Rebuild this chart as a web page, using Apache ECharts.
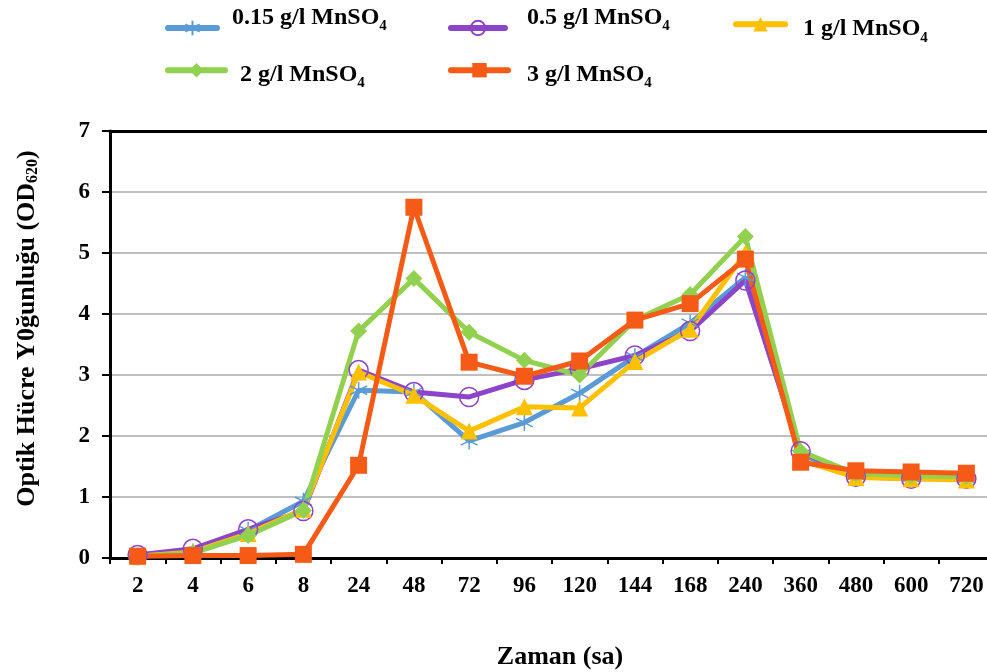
<!DOCTYPE html>
<html>
<head>
<meta charset="utf-8">
<script src="https://cdn.jsdelivr.net/npm/echarts@6/dist/echarts.min.js"></script>
<style>
  html, body { margin: 0; padding: 0; background: #fff; overflow: hidden; }
  #chart { width: 987px; height: 672px; }
</style>
</head>
<body>
<div id="chart"></div>
<script>
const categories = ['2', '4', '6', '8', '24', '48', '72', '96', '120', '144', '168', '240', '360', '480', '600', '720']
const mn015 = [0.03, 0.10, 0.45, 0.93, 2.75, 2.72, 1.92, 2.22, 2.70, 3.30, 3.85, 4.60, 1.70, 1.35, 1.32, 1.30]
const mn05 = [0.05, 0.15, 0.47, 0.77, 3.08, 2.72, 2.64, 2.92, 3.10, 3.32, 3.72, 4.55, 1.75, 1.33, 1.30, 1.30]
const mn1 = [0.03, 0.10, 0.40, 0.80, 3.05, 2.67, 2.08, 2.48, 2.46, 3.22, 3.75, 5.00, 1.60, 1.32, 1.30, 1.28]
const mn2 = [0.03, 0.08, 0.37, 0.78, 3.72, 4.58, 3.70, 3.24, 3.00, 3.90, 4.32, 5.27, 1.75, 1.38, 1.35, 1.33]
const mn3 = [0.03, 0.04, 0.04, 0.06, 1.52, 5.75, 3.21, 2.98, 3.23, 3.90, 4.17, 4.90, 1.57, 1.43, 1.41, 1.39]
const yTicks = [0, 1, 2, 3, 4, 5, 6, 7]

const font = 'Liberation Serif, Times New Roman, serif'
const asterisk = 'path://M0,-10L0,10M-8.66,-5L8.66,5M-8.66,5L8.66,-5'

const chart = echarts.init(document.getElementById('chart'))

function makeSeries(name, data, color, symbol, size, opts) {
  return Object.assign({
    name: name,
    type: 'line',
    data: data,
    symbol: symbol,
    symbolSize: size,
    showAllSymbol: true,
    lineStyle: { color: color, width: 5 },
    itemStyle: { color: color },
    animation: false
  }, opts || {})
}

// textPad = [top, right, bottom, left] of the main text; the subscript follows it
function makeLegend(name, left, top, width, textPad) {
  return {
    data: [name],
    left: left,
    top: top,
    itemWidth: width,
    itemHeight: 18,
    lineStyle: { width: 6, cap: 'round' },
    formatter: function (n) {
      return '{t|' + n.replace('MnSO4', 'MnSO') + '}{s|4}'
    },
    textStyle: {
      rich: {
        t: { fontFamily: font, fontWeight: 'bold', fontSize: 24, color: '#000', padding: textPad },
        s: {
          fontFamily: font, fontWeight: 'bold', fontSize: 15, color: '#000',
          padding: [textPad[0] + 11, 0, Math.max(textPad[2] - 6, 0), 0]
        }
      }
    }
  }
}

chart.setOption({
  backgroundColor: '#fff',
  grid: { left: 110, right: -7, top: 131, bottom: 114, outerBoundsMode: 'none' },
  legend: [
    makeLegend('0.15 g/l MnSO4', 160, 1, 49, [0, 0, 20, 10]),
    makeLegend('0.5 g/l MnSO4', 443, 1, 54, [0, 0, 20, 17]),
    makeLegend('1 g/l MnSO4', 728, 12, 49, [16, 0, 6, 13]),
    makeLegend('2 g/l MnSO4', 160, 58, 57, [14, 0, 4, 10]),
    makeLegend('3 g/l MnSO4', 443, 58, 57, [14, 0, 4, 14])
  ],
  xAxis: [{
    type: 'category',
    data: categories,
    boundaryGap: true,
    name: 'Zaman (sa)',
    nameLocation: 'middle',
    nameGap: 86,
    nameTextStyle: { fontFamily: font, fontWeight: 'bold', fontSize: 26, color: '#000', padding: [0, 0, 0, 16] },
    axisLine: { lineStyle: { color: '#000', width: 3 } },
    axisTick: { show: true, length: 6, lineStyle: { color: '#000', width: 2 } },
    axisLabel: { fontFamily: font, fontWeight: 'bold', fontSize: 23, color: '#000', margin: 17 },
    splitLine: { show: false }
  }, {
    type: 'category',
    data: categories,
    position: 'top',
    axisLine: { lineStyle: { color: '#000', width: 3 } },
    axisTick: { show: false },
    axisLabel: { show: false },
    splitLine: { show: false }
  }],
  yAxis: {
    type: 'value',
    min: yTicks[0],
    max: yTicks[yTicks.length - 1],
    interval: 1,
    name: '{t|Optik Hücre Y0ğunluğu (OD}{s|620}{t|)}',
    nameLocation: 'middle',
    nameGap: 69,
    nameRotate: 90,
    nameTextStyle: {
      padding: [0, 0, 0, 32],
      rich: {
        t: { fontFamily: font, fontWeight: 'bold', fontSize: 26, color: '#000' },
        s: { fontFamily: font, fontWeight: 'bold', fontSize: 16, color: '#000', padding: [12, 0, 0, 0] }
      }
    },
    axisLine: { show: true, lineStyle: { color: '#000', width: 3 } },
    axisTick: { show: true, length: 8, lineStyle: { color: '#000', width: 2 } },
    axisLabel: { fontFamily: font, fontWeight: 'bold', fontSize: 23, color: '#000', margin: 20 },
    splitLine: { lineStyle: { color: '#bfbfbf', width: 2 } }
  },
  series: [
    makeSeries('0.15 g/l MnSO4', mn015, '#5b9bd5', asterisk, 17, {
      itemStyle: { color: '#5b9bd5', borderColor: '#5b9bd5', borderWidth: 1.5 }
    }),
    makeSeries('0.5 g/l MnSO4', mn05, '#8c44c8', 'circle', 19, {
      itemStyle: { color: 'rgba(255,255,255,0)', borderColor: '#8c44c8', borderWidth: 1.5 }
    }),
    makeSeries('1 g/l MnSO4', mn1, '#ffc000', 'triangle', 17),
    makeSeries('2 g/l MnSO4', mn2, '#92d050', 'diamond', 17),
    makeSeries('3 g/l MnSO4', mn3, '#f55b17', 'rect', 17)
  ]
})
</script>
</body>
</html>
